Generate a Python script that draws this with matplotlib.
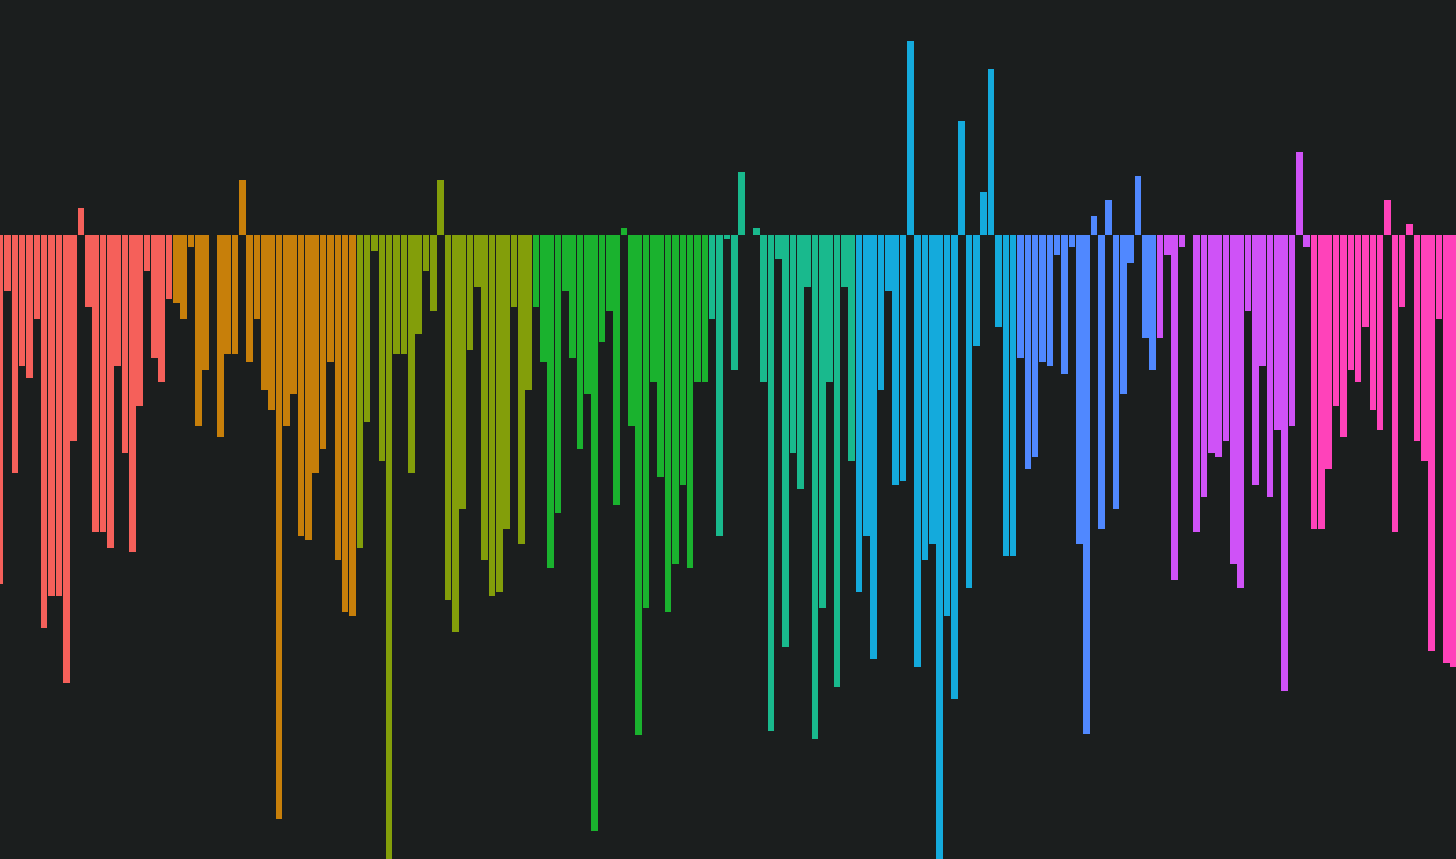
import matplotlib
matplotlib.use("Agg")
import matplotlib.pyplot as plt
import numpy as np

# bar heights, one list per colour group
red = [-349, -56, -238, -131, -143, -84, -393, -361, -361, -448, -206, 27,
       -72, -297, -297, -313, -131, -218, -317, -171, -36, -123, -147, -64]
orange = [-68, -84, -12, -191, -135, 0, -202, -119, -119, 55, -127, -84, -155,
          -175, -584, -191, -159, -301, -305, -238, -214, -127, -325, -377, -381]
olive = [-313, -187, -16, -226, -660, -119, -119, -238, -99, -36, -76, 55,
         -365, -397, -274, -115, -52, -325, -361, -357, -294, -72, -309, -155]
green = [-72, -127, -333, -278, -56, -123, -214, -159, -596, -107, -76, -270,
         7, -191, -500, -373, -147, -242, -377, -329, -250, -333, -147, -147]
teal = [-84, -301, -4, -135, 63, 0, 7, -147, -496, -24, -412, -218, -254,
        -52, -504, -373, -147, -452, -52, -226]
cyan = [-357, -301, -424, -155, -56, -250, -246, 194, -432, -325, -309, -660,
        -381, -464, 114, -353, -111, 43, 166, -92, -321, -321]
blue = [-123, -234, -222, -127, -131, -20, -139, -12, -309, -499, 19, -294,
        35, -274, -159, -28, 59, -103, -135]
purple = [-103, -20, -345, -12, 0, -297, -262, -218, -222, -206, -329, -353,
          -76, -250, -131, -262, -195, -456, -191, 83, -12]
pink = [-294, -294, -234, -171, -202, -135, -147, -92, -175, -195, 35, -297,
        -72, 11, -206, -226, -416, -84, -428, -432]

groups = [red, orange, olive, green, teal, cyan, blue, purple, pink]
colors = ["#F5605A", "#C77F0A", "#839E0A", "#1AB22E", "#19B98D",
          "#14AADC", "#5088FF", "#CF52F7", "#FF42BA"]
bg = "#1B1E1E"

values, bar_colors = [], []
for g, c in zip(groups, colors):
    values += g
    bar_colors += [c] * len(g)
x = np.arange(len(values))

fig = plt.figure(figsize=(14.56, 8.59), dpi=100, facecolor=bg)
ax = fig.add_axes([0, 0, 1, 1])
ax.set_facecolor(bg)
ax.bar(x, values, width=0.9, color=bar_colors, linewidth=0)
ax.set_xlim(-0.02, 198.33)
ax.set_ylim(-624, 235)
ax.axis("off")

fig.savefig("out.png", dpi=100, facecolor=bg)
